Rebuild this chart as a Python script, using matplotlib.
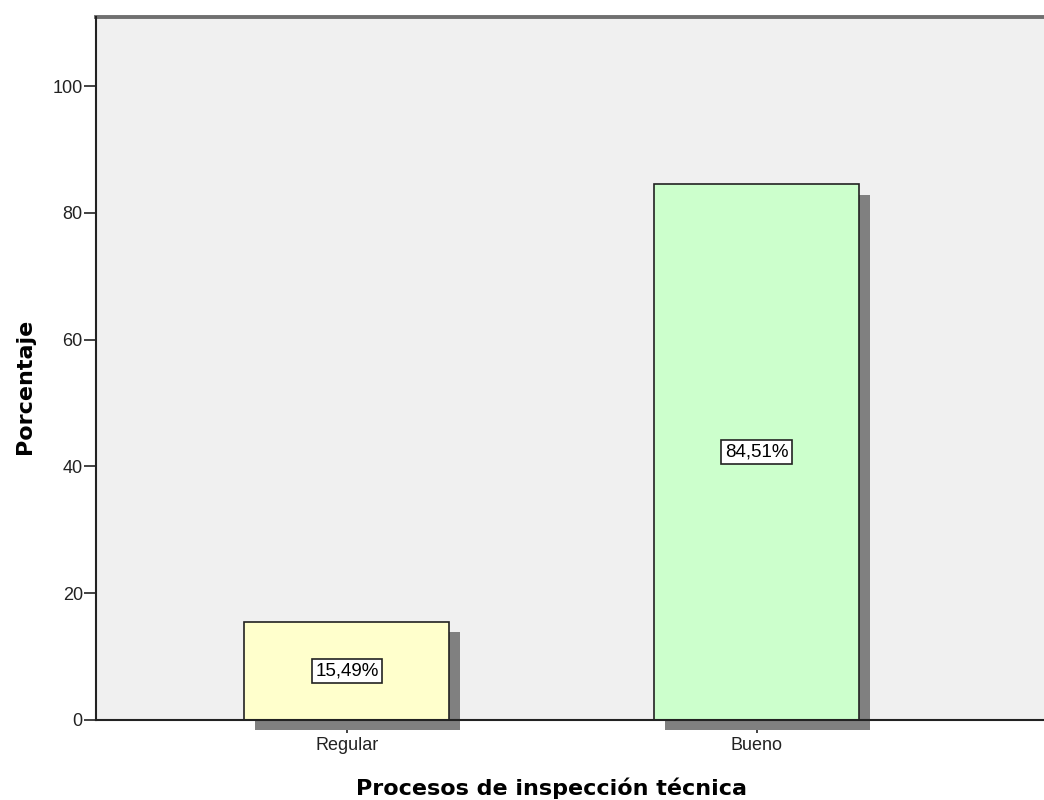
import matplotlib.pyplot as plt
import matplotlib.transforms as mtransforms

categorias = ['Regular', 'Bueno']
porcentajes = [15.49, 84.51]
etiquetas = ['15,49%', '84,51%']
colores = ['#FFFFCC', '#CCFFCC']

fig = plt.figure(figsize=(10.44, 8), dpi=100)
ax = fig.add_axes([96 / 1044, 80 / 800, 948 / 1044, 703 / 800])
ax.set_facecolor('#F0F0F0')

x = range(len(categorias))
ancho = 0.5

# sombra desplazada abajo a la derecha (tapa las marcas del eje x)
sombra = mtransforms.offset_copy(ax.transData, fig=fig, x=7.5, y=-7.5, units='points')
ax.bar(x, porcentajes, width=ancho, color='#808080', edgecolor='none',
       transform=sombra, clip_on=False, zorder=2)
ax.bar(x, porcentajes, width=ancho, color=colores, edgecolor='#222222',
       linewidth=1.2, zorder=3)

for xi, v, txt in zip(x, porcentajes, etiquetas):
    ax.text(xi, v / 2, txt, ha='center', va='center', fontsize=13.5,
            family='Liberation Sans', zorder=4,
            bbox=dict(boxstyle='square,pad=0.2', facecolor='white',
                      edgecolor='#222222', linewidth=1.2))

ax.set_xlim(-0.612, 1.70)
ax.set_ylim(0, 110.9)
ax.set_yticks([0, 20, 40, 60, 80, 100])
ax.set_xticks(list(x))
ax.set_xticklabels(categorias)

ax.tick_params(axis='y', direction='out', length=9, width=1.2, color='#222222',
               labelsize=13, pad=0.5)
ax.tick_params(axis='x', direction='out', length=9, width=1.2, color='#222222',
               labelsize=13, pad=3)
for lab in ax.get_xticklabels() + ax.get_yticklabels():
    lab.set_family('Liberation Sans')
    lab.set_color('#222222')

for s in ['left', 'bottom']:
    ax.spines[s].set_color('#222222')
    ax.spines[s].set_linewidth(1.5)
    ax.spines[s].set_zorder(5)
ax.spines['top'].set_color('#707070')
ax.spines['top'].set_linewidth(2.8)
ax.spines['right'].set_visible(False)

ax.set_xlabel('Procesos de inspección técnica', fontsize=16, fontweight='bold')
ax.xaxis.set_label_coords(0.481, -0.1067)
ax.xaxis.label.set_va('baseline')
ax.set_ylabel('Porcentaje', fontsize=16, fontweight='bold')
ax.yaxis.set_label_coords(-0.0744, 0.475)
ax.yaxis.label.set_va('center')

fig.savefig('out.png', dpi=100)
